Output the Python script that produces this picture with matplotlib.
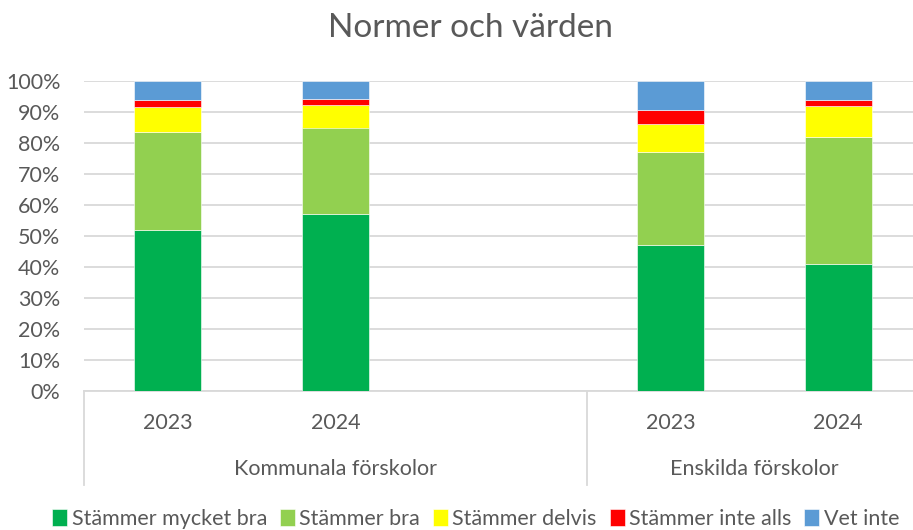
import matplotlib.pyplot as plt
import matplotlib.transforms as mtransforms
import numpy as np

# data (percent)
groups = ["Kommunala förskolor", "Enskilda förskolor"]
years = ["2023", "2024", "2023", "2024"]
series = ["Stämmer mycket bra", "Stämmer bra", "Stämmer delvis", "Stämmer inte alls", "Vet inte"]
mycket_bra = [52, 57, 47, 41]
bra = [31.5, 28, 30, 41]
delvis = [8, 7.2, 9, 10]
inte_alls = [2.5, 2, 4.5, 2]
vet_inte = [6, 5.8, 9.5, 6]
colors = ["#00B050", "#92D050", "#FFFF00", "#FF0000", "#5B9BD5"]

plt.rcParams["font.family"] = ["Lato", "DejaVu Sans"]
txt = "#595959"
grid = "#D9D9D9"

fig = plt.figure(figsize=(9.13, 5.30), dpi=100)
ax = fig.add_axes([84 / 913, 1 - 391 / 530, (922 - 84) / 913, 310 / 530])

# slot 2 is left empty between the two groups
xpos = np.array([0, 1, 3, 4])
bottom = np.zeros(len(xpos))
for name, vals, c in zip(series, [mycket_bra, bra, delvis, inte_alls, vet_inte], colors):
    vals = np.array(vals, dtype=float)
    ax.bar(xpos, vals, 0.4, bottom=bottom, color=c, label=name,
           edgecolor="white", linewidth=0.4, zorder=3)
    bottom += vals

ax.set_xlim(-0.5, 4.5)
ax.set_ylim(0, 100)
ax.set_yticks(range(0, 101, 10))
ax.set_yticklabels([f"{v}%" for v in range(0, 101, 10)])
ax.tick_params(axis="y", length=0, pad=17, labelsize=15.5, labelcolor=txt)
ax.set_xticks([])
ax.grid(axis="y", color=grid, linewidth=1.3, zorder=0)
for s in ["top", "right", "left"]:
    ax.spines[s].set_visible(False)
ax.spines["bottom"].set_color(grid)
ax.spines["bottom"].set_linewidth(1.3)

trans = mtransforms.blended_transform_factory(ax.transData, ax.transAxes)
for xp, yr in zip(xpos, years):
    ax.text(xp, -0.103, yr, transform=trans, ha="center", va="center",
            fontsize=15.5, color=txt)
ax.text(1, -0.252, groups[0], transform=trans, ha="center", va="center",
        fontsize=15.5, color=txt)
ax.text(3.5, -0.252, groups[1], transform=trans, ha="center", va="center",
        fontsize=15.5, color=txt)
for xv in [-0.5, 2.5]:
    ax.plot([xv, xv], [0, -0.303], transform=trans, color=grid,
            linewidth=1.3, clip_on=False)

fig.text(470 / 913, 1 - 28 / 530, "Normer och värden", ha="center", va="center",
         fontsize=24, color=txt)

fig.legend(loc="center", bbox_to_anchor=(0.521, 0.021), ncol=5, frameon=False,
           fontsize=15.5, labelcolor=txt, handlelength=0.7, handleheight=0.85,
           handletextpad=0.2, columnspacing=0.6, borderaxespad=0)

fig.savefig("out.png", dpi=100)
